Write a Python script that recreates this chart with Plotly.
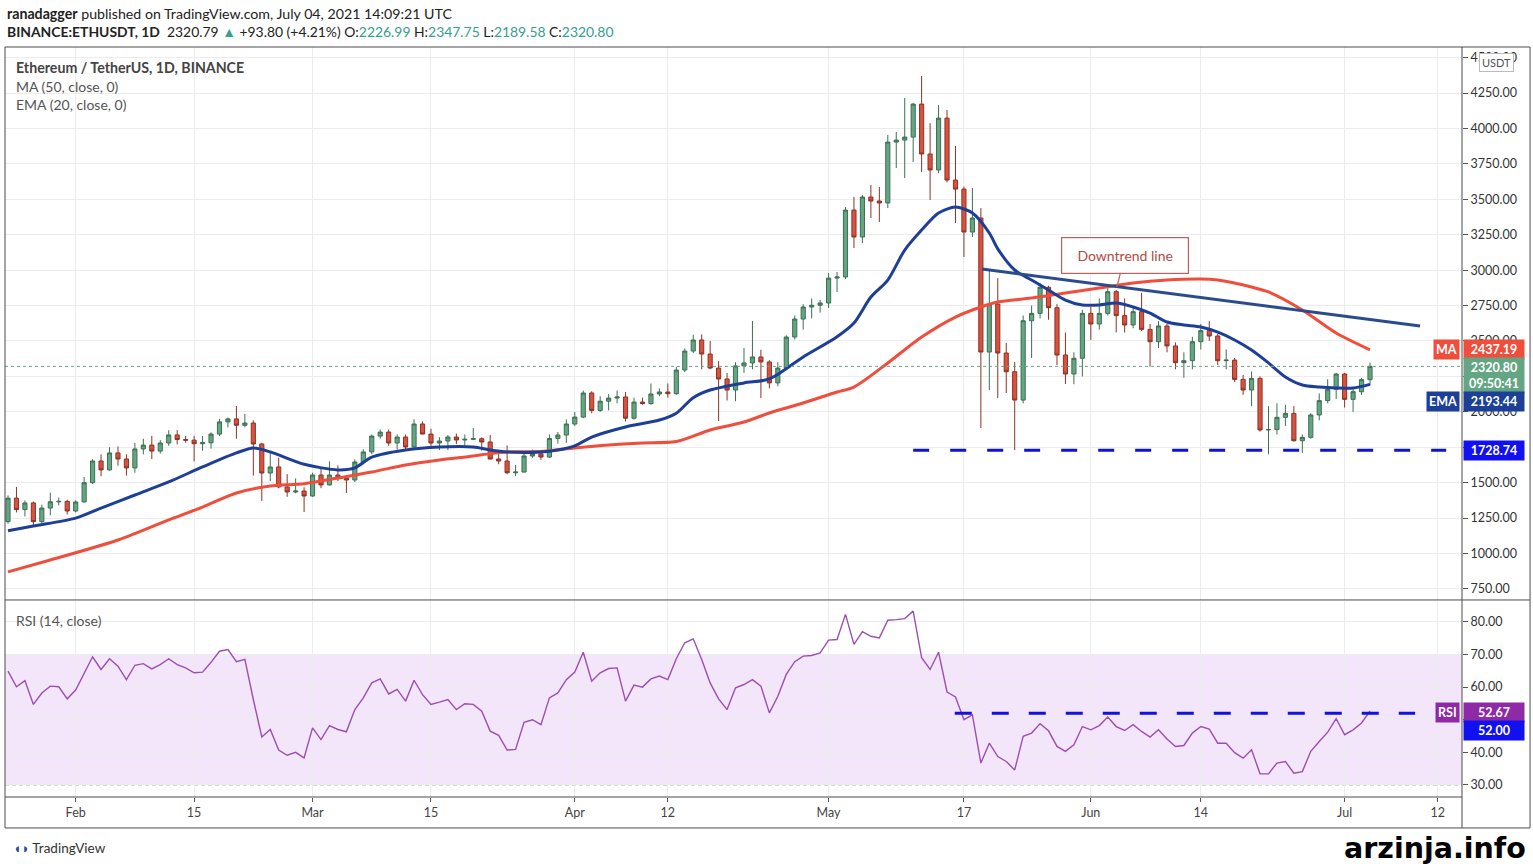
import pandas as pd
import plotly.graph_objects as go

# ---- daily candles, BINANCE:ETHUSDT, 24 Jan .. 4 Jul 2021 ----
dates = pd.date_range("2021-01-24", periods=162, freq="D")

open_ = [1225, 1391, 1310, 1357, 1225, 1321, 1365, 1368,
         1300, 1364, 1500, 1653, 1590, 1710, 1667, 1604, 1738, 1765, 1723, 1780, 1837, 1805,
         1800, 1775, 1782, 1843, 1929, 1950, 1905, 1921, 1773, 1568, 1611, 1470, 1434, 1441,
         1406, 1554, 1484, 1554, 1533, 1519, 1646, 1717, 1829, 1857, 1780, 1822, 1752, 1914,
         1843, 1780, 1794, 1822, 1801, 1806, 1810, 1787, 1667, 1653, 1570, 1575, 1688, 1703,
         1681, 1812, 1836,
         1914, 1963, 2133, 2010, 2075, 2097, 2105, 1955, 2069, 2058, 2126, 2140, 2128, 2295,
         2429, 2507, 2408, 2309, 2232, 2154, 2324, 2345, 2387, 2352, 2204, 2309, 2528, 2655,
         2740, 2752,
         2768, 2944, 2952, 3424, 3234, 3516, 3488, 3474, 3904, 3918, 3939, 4172, 3820, 3707,
         4073, 3636, 3572, 3269, 3368, 2422, 2761, 2415, 2283, 2083, 2643, 2695, 2879, 2735,
         2401, 2267, 2378,
         2695, 2620, 2695, 2848, 2679, 2613, 2707, 2582, 2495, 2606, 2465, 2347, 2361, 2495,
         2573, 2535, 2361, 2365, 2229, 2154, 2236, 1872, 1875, 1961, 1989, 1796, 1820, 1978,
         2079, 2159,
         2267, 2088, 2142, 2226.99]

high = [1410, 1470, 1375, 1367, 1345, 1430, 1395, 1380,
        1375, 1540, 1665, 1700, 1750, 1755, 1700, 1780, 1810, 1830, 1800, 1870, 1871, 1830,
        1830, 1830, 1855, 1950, 1960, 2041, 1985, 1940, 1782, 1710, 1676, 1560, 1530, 1468,
        1570, 1600, 1650, 1622, 1548, 1665, 1735, 1840, 1875, 1875, 1840, 1840, 1947, 1932,
        1880, 1821, 1837, 1846, 1840, 1885, 1820, 1837, 1726, 1763, 1625, 1702, 1733, 1722,
        1840, 1858, 1947,
        1999, 2150, 2145, 2110, 2125, 2150, 2140, 2100, 2100, 2200, 2165, 2200, 2318, 2448,
        2544, 2547, 2500, 2358, 2274, 2350, 2450, 2641, 2438, 2365, 2350, 2540, 2680, 2760,
        2800, 2790,
        2980, 2987, 3445, 3516, 3530, 3601, 3587, 3954, 3975, 4215, 4179, 4370, 4038, 4165,
        4130, 3876, 3590, 3580, 3438, 3000, 2944, 2486, 2352, 2680, 2750, 2910, 2890, 2760,
        2560, 2420, 2720,
        2740, 2800, 2880, 2860, 2800, 2740, 2840, 2620, 2640, 2620, 2490, 2420, 2530, 2620,
        2640, 2550, 2440, 2380, 2260, 2285, 2250, 2040, 2060, 2050, 2040, 1840, 1990, 2130,
        2230, 2275,
        2275, 2160, 2240, 2347.75]

low = [1210, 1290, 1262, 1200, 1215, 1270, 1340, 1275,
       1290, 1360, 1490, 1545, 1585, 1620, 1550, 1570, 1700, 1667, 1705, 1760, 1770, 1782,
       1650, 1725, 1740, 1830, 1890, 1810, 1890, 1550, 1371, 1511, 1460, 1400, 1425, 1293,
       1400, 1461, 1480, 1511, 1427, 1505, 1630, 1700, 1810, 1760, 1733, 1730, 1739, 1842,
       1760, 1730, 1730, 1772, 1760, 1800, 1726, 1665, 1630, 1560, 1546, 1570, 1676, 1661,
       1675, 1775, 1781,
       1900, 1955, 1990, 2000, 2010, 2060, 1932, 1945, 2050, 2050, 2110, 2100, 2120, 2280,
       2415, 2300, 2300, 1935, 2080, 2075, 2275, 2300, 2097, 2166, 2180, 2300, 2510, 2580,
       2660, 2700,
       2733, 2846, 2937, 3156, 3191, 3368, 3340, 3438, 3721, 3650, 3763, 3692, 3495, 3685,
       3620, 3333, 3093, 3234, 1886, 2154, 2097, 2133, 1730, 2060, 2380, 2660, 2650, 2330,
       2196, 2195, 2250,
       2508, 2580, 2680, 2560, 2560, 2590, 2570, 2320, 2450, 2420, 2300, 2240, 2300, 2440,
       2500, 2330, 2300, 2210, 2120, 2040, 1860, 1700, 1840, 1900, 1790, 1710, 1810, 1940,
       2060, 2090,
       2030, 2000, 2120, 2189.58]

close = [1391, 1310, 1357, 1225, 1321, 1365, 1368, 1300,
         1364, 1500, 1653, 1590, 1710, 1667, 1604, 1738, 1765, 1723, 1780, 1837, 1805, 1800,
         1775, 1782, 1843, 1929, 1950, 1905, 1921, 1773, 1568, 1611, 1470, 1434, 1441, 1406,
         1554, 1484, 1554, 1533, 1519, 1646, 1717, 1829, 1857, 1780, 1822, 1752, 1914, 1843,
         1780, 1794, 1822, 1801, 1806, 1810, 1787, 1667, 1653, 1570, 1575, 1688, 1703, 1681,
         1812, 1836, 1914,
         1963, 2133, 2010, 2075, 2097, 2105, 1955, 2069, 2058, 2126, 2140, 2128, 2295, 2429,
         2507, 2408, 2309, 2232, 2154, 2324, 2345, 2387, 2352, 2204, 2309, 2528, 2655, 2740,
         2752, 2768,
         2944, 2952, 3424, 3234, 3516, 3488, 3474, 3904, 3918, 3939, 4172, 3820, 3707, 4073,
         3636, 3572, 3269, 3368, 2422, 2761, 2415, 2283, 2083, 2643, 2695, 2879, 2735, 2401,
         2267, 2378, 2695,
         2620, 2695, 2848, 2679, 2613, 2707, 2582, 2495, 2606, 2465, 2347, 2361, 2495, 2573,
         2535, 2361, 2365, 2229, 2154, 2236, 1872, 1875, 1961, 1989, 1796, 1820, 1978, 2079,
         2159, 2267,
         2088, 2142, 2226.99, 2320.80]

rsi = [64.9, 60.1, 62.0, 54.7, 58.2, 60.3, 60.1, 56.4, 59.1, 64.2,
       69.3, 65.4, 68.7, 66.4, 62.3, 66.7, 67.2, 65.6, 66.9, 68.7,
       66.9, 65.9, 64.4, 64.6, 67.6, 71.0, 71.5, 67.8, 68.5, 56.2,
       44.7, 47.0, 40.7, 39.1, 40.0, 38.3, 47.5, 43.9, 48.2, 47.0,
       46.3, 53.1, 56.7, 61.3, 62.5, 57.9, 59.3, 55.7, 62.1, 57.7,
       54.7, 55.4, 56.2, 53.1, 54.9, 54.7, 52.6, 46.5, 45.2, 40.7,
       40.9, 49.2, 50.0, 48.5, 56.7, 58.2, 62.3, 64.6, 70.7, 61.8,
       64.4, 65.7, 65.9, 55.7, 60.6, 60.0, 62.5, 63.4, 62.3, 68.7,
       73.6, 74.8, 68.5, 61.3, 56.4, 53.1, 59.8, 60.8, 62.3, 60.3,
       52.1, 57.2, 63.9, 67.8, 69.5, 69.7, 70.5, 74.4, 74.6, 82.3,
       73.1, 77.0, 75.6, 75.1, 80.5, 80.7, 81.0, 83.3, 69.0, 65.4,
       70.7, 58.5, 57.0, 50.0, 51.5, 36.7, 42.8, 38.7, 37.2, 34.6,
       44.9, 45.9, 48.8, 46.6, 41.8, 40.3, 42.3, 47.9, 46.9, 48.2,
       50.8, 47.9, 46.7, 48.5, 46.4, 44.7, 46.9, 44.1, 41.8, 42.1,
       45.9, 47.9, 47.1, 42.8, 42.8, 39.9, 38.2, 40.8, 33.4, 33.4,
       36.7, 37.2, 33.6, 34.1, 40.3, 43.3, 46.2, 50.3, 45.4, 46.9,
       49.0, 52.67]

# EMA(20) and MA(50)
ema_dates = ["2021-01-24", "2021-01-27", "2021-02-01", "2021-02-04", "2021-02-08", "2021-02-12",
             "2021-02-16", "2021-02-20", "2021-02-22", "2021-02-24", "2021-02-28", "2021-03-04",
             "2021-03-06", "2021-03-08", "2021-03-12", "2021-03-16", "2021-03-20", "2021-03-22",
             "2021-03-24", "2021-03-28", "2021-03-30", "2021-04-01", "2021-04-03", "2021-04-07",
             "2021-04-11", "2021-04-13", "2021-04-15", "2021-04-17", "2021-04-21", "2021-04-24",
             "2021-04-28", "2021-05-02", "2021-05-04", "2021-05-06", "2021-05-08", "2021-05-10",
             "2021-05-12", "2021-05-14", "2021-05-16", "2021-05-18", "2021-05-20", "2021-05-21",
             "2021-05-23", "2021-05-25", "2021-05-27", "2021-05-29", "2021-05-31", "2021-06-02",
             "2021-06-04", "2021-06-06", "2021-06-08", "2021-06-10", "2021-06-12", "2021-06-14",
             "2021-06-16", "2021-06-18", "2021-06-20", "2021-06-22", "2021-06-24", "2021-06-26",
             "2021-06-28", "2021-06-30", "2021-07-02", "2021-07-04"]
ema_vals = [1160, 1194, 1250, 1321, 1413, 1505, 1611, 1710, 1745, 1717, 1630, 1590, 1604, 1680,
            1731, 1752, 1752, 1731, 1717, 1717, 1731, 1760, 1822, 1893, 1942, 1990, 2100, 2154,
            2204, 2232, 2387, 2530, 2627, 2810, 2930, 3142, 3283, 3403, 3445, 3403, 3262, 3150,
            3001, 2930, 2860, 2789, 2754, 2754, 2768, 2740, 2697, 2634, 2613, 2599, 2563, 2507,
            2436, 2345, 2246, 2189, 2175, 2168, 2168, 2193.44]

ma_dates = ["2021-01-24", "2021-01-29", "2021-02-06", "2021-02-12", "2021-02-16", "2021-02-20",
            "2021-02-24", "2021-02-28", "2021-03-04", "2021-03-08", "2021-03-12", "2021-03-16",
            "2021-03-20", "2021-03-22", "2021-03-24", "2021-03-28", "2021-04-01", "2021-04-05",
            "2021-04-09", "2021-04-13", "2021-04-17", "2021-04-21", "2021-04-24", "2021-04-28",
            "2021-05-02", "2021-05-04", "2021-05-08", "2021-05-12", "2021-05-16", "2021-05-19",
            "2021-05-21", "2021-05-25", "2021-05-29", "2021-06-02", "2021-06-06", "2021-06-10",
            "2021-06-14", "2021-06-16", "2021-06-18", "2021-06-22", "2021-06-26", "2021-06-30",
            "2021-07-04"]
ma_vals = [870, 954, 1095, 1237, 1328, 1427, 1477, 1493, 1533, 1575, 1625, 1660, 1688, 1705,
           1717, 1720, 1745, 1766, 1780, 1790, 1872, 1928, 1992, 2062, 2140, 2175, 2345, 2528,
           2669, 2740, 2775, 2803, 2839, 2874, 2909, 2930, 2937, 2930, 2909, 2846, 2719, 2556,
           2437.19]

# drawings
trend_dates = ["2021-05-19 03:00", "2021-07-09 22:00"]
trend_prices = [3008, 2606]
support_dates = ["2021-05-11", "2021-07-13"]
support_level = 1728.74
rsi_line_dates = ["2021-05-15 22:00", "2021-07-09 08:00"]
rsi_line_level = 52.00
callout_date = "2021-06-04 02:00"
callout_price = 2881

x_ticks = ["2021-02-01", "2021-02-15", "2021-03-01", "2021-03-15", "2021-04-01", "2021-04-12",
           "2021-05-01", "2021-05-17", "2021-06-01", "2021-06-14", "2021-07-01", "2021-07-12"]
x_labels = ["Feb", "15", "Mar", "15", "Apr", "12", "May", "17", "Jun", "14", "Jul", "12"]
price_ticks = [750, 1000, 1250, 1500, 1750, 2000, 2250, 2500, 2750, 3000, 3250, 3500, 3750,
               4000, 4250, 4500]
hidden_price_ticks = [1750, 2250]   # covered by the axis tags on the reference
rsi_ticks = [30, 40, 50, 60, 70, 80]
hidden_rsi_ticks = [50]

FONT = "Lato, 'Open Sans', sans-serif"
GREEN_TXT = "#33a091"
BORDER = "#4d4d4d"
GRID = "#ececec"

fig = go.Figure()

fig.add_trace(go.Candlestick(
    x=dates, open=open_, high=high, low=low, close=close,
    increasing=dict(line=dict(color="#3d6f52", width=1), fillcolor="#64a683"),
    decreasing=dict(line=dict(color="#8a3326", width=1), fillcolor="#d9523f"),
    whiskerwidth=0, hoverinfo="skip",
))
fig.add_trace(go.Scatter(x=ma_dates, y=ma_vals, mode="lines",
                         line=dict(color="#f04e3c", width=3, shape="spline", smoothing=0.8)))
fig.add_trace(go.Scatter(x=ema_dates, y=ema_vals, mode="lines",
                         line=dict(color="#1d3f98", width=3, shape="spline", smoothing=0.8)))
fig.add_trace(go.Scatter(x=trend_dates, y=trend_prices, mode="lines",
                         line=dict(color="#2b4c8c", width=3)))
fig.add_trace(go.Scatter(x=support_dates, y=[support_level, support_level], mode="lines",
                         line=dict(color="#0b14d4", width=3, dash="16px,21px")))

fig.add_trace(go.Scatter(x=dates, y=rsi, mode="lines", yaxis="y2",
                         line=dict(color="#9c4fb0", width=1.4)))
fig.add_trace(go.Scatter(x=rsi_line_dates, y=[rsi_line_level, rsi_line_level], mode="lines",
                         yaxis="y2", line=dict(color="#1010e0", width=3, dash="17px,20px")))

shapes = [
    # RSI band 30-70
    dict(type="rect", xref="paper", yref="y2", x0=0, x1=1, y0=30, y1=70,
         fillcolor="#f3e6fb", line_width=0, layer="below"),
    dict(type="line", xref="paper", yref="y2", x0=0, x1=1, y0=70, y1=70,
         line=dict(color="#a99bb3", width=1, dash="4px,3px"), layer="below"),
    dict(type="line", xref="paper", yref="y2", x0=0, x1=1, y0=30, y1=30,
         line=dict(color="#a99bb3", width=1, dash="4px,3px"), layer="below"),
    # last price dotted line
    dict(type="line", xref="paper", yref="y", x0=0, x1=1, y0=close[-1], y1=close[-1],
         line=dict(color="#6aa585", width=1, dash="dot")),
]
# chart frame
RIGHT = 1.0467
BOTTOM = -0.0413
for x0, y0, x1, y1 in [(0, 1, RIGHT, 1), (0, 0.2627, RIGHT, 0.2627), (0, 0, 1, 0),
                       (0, BOTTOM, RIGHT, BOTTOM), (0, BOTTOM, 0, 1), (RIGHT, BOTTOM, RIGHT, 1),
                       (1, BOTTOM, 1, 1)]:
    shapes.append(dict(type="line", xref="paper", yref="paper", x0=x0, y0=y0, x1=x1, y1=y1,
                       line=dict(color=BORDER, width=1)))


def tag(y, text, bg, yref="y", name=None, yshift=0, yanchor="middle"):
    out = [dict(xref="paper", yref=yref, x=1, y=y, xanchor="left", yanchor=yanchor, xshift=1,
                yshift=yshift, text=text, showarrow=False, bgcolor=bg, borderpad=2, width=56,
                align="center", font=dict(family=FONT, size=12.5, color="white", weight="bold"))]
    if name:
        out.append(dict(xref="paper", yref=yref, x=1, y=y, xanchor="right", yanchor=yanchor,
                        xshift=-2, yshift=yshift, text=name, showarrow=False, bgcolor=bg,
                        borderpad=2, font=dict(family=FONT, size=12.5, color="white", weight="bold")))
    return out


annotations = []
annotations += tag(ma_vals[-1], f"{ma_vals[-1]:.2f}", "#f04e3c", name="MA")
annotations += tag(close[-1], f"{close[-1]:.2f}<br>09:50:41", "#64a683", yanchor="top", yshift=9)
# TradingView pushes the EMA tag below the price tag
annotations += tag(ema_vals[-1], f"{ema_vals[-1]:.2f}", "#1d3f98", name="EMA", yshift=-17)
annotations += tag(support_level, f"{support_level:.2f}", "#1010f0")
annotations += tag(rsi[-1], f"{rsi[-1]:.2f}", "#8e2aa6", yref="y2", name="RSI", yshift=-1)
annotations += tag(rsi_line_level, f"{rsi_line_level:.2f}", "#1010f0", yref="y2", yshift=-17)

annotations += [
    dict(xref="paper", yref="paper", x=0, y=1.0453, xanchor="left", yanchor="middle",
         showarrow=False, font=dict(family=FONT, size=14.2, color="#222"),
         text="<b>ranadagger</b> published on TradingView.com, July 04, 2021 14:09:21 UTC"),
    dict(xref="paper", yref="paper", x=0, y=1.0200, xanchor="left", yanchor="middle",
         showarrow=False, font=dict(family=FONT, size=13.9, color="#222"),
         text=(f"<b>BINANCE:ETHUSDT, 1D</b>  2320.79 <span style='color:{GREEN_TXT}'>▲</span>"
               f" +93.80 (+4.21%) O:<span style='color:{GREEN_TXT}'>{open_[-1]:.2f}</span>"
               f" H:<span style='color:{GREEN_TXT}'>{high[-1]:.2f}</span>"
               f" L:<span style='color:{GREEN_TXT}'>{low[-1]:.2f}</span>"
               f" C:<span style='color:{GREEN_TXT}'>{close[-1]:.2f}</span>")),
    dict(xref="paper", yref="paper", x=0.0062, y=0.9733, xanchor="left", yanchor="middle",
         showarrow=False, text="Ethereum / TetherUS, 1D, BINANCE",
         font=dict(family=FONT, size=14.2, color="#444", weight="bold")),
    dict(xref="paper", yref="paper", x=0.0062, y=0.9480, xanchor="left", yanchor="middle",
         showarrow=False, text="MA (50, close, 0)", font=dict(family=FONT, size=14, color="#555")),
    dict(xref="paper", yref="paper", x=0.0062, y=0.9227, xanchor="left", yanchor="middle",
         showarrow=False, text="EMA (20, close, 0)", font=dict(family=FONT, size=14, color="#555")),
    dict(xref="paper", yref="paper", x=0.0062, y=0.2360, xanchor="left", yanchor="middle",
         showarrow=False, text="RSI (14, close)", font=dict(family=FONT, size=14, color="#555")),
    dict(xref="paper", yref="paper", x=1.024, y=0.980, xanchor="center", yanchor="middle",
         showarrow=False, text="USDT", bgcolor="white", bordercolor="#bbbbbb", borderwidth=1,
         borderpad=2, font=dict(family=FONT, size=11, color="#555")),
    dict(x=callout_date, y=callout_price, xref="x", yref="y", ax=8, ay=-32,
         text="Downtrend line", showarrow=True, arrowhead=0, arrowwidth=1.2,
         arrowcolor="#c0605a", bordercolor="#c0605a", borderwidth=1.2, borderpad=9,
         bgcolor="white", width=108, font=dict(family=FONT, size=14, color="#b24a42")),
    dict(xref="paper", yref="paper", x=0.004, y=-0.068, xanchor="left", yanchor="middle",
         showarrow=False, text="<span style='color:#2e4d8f'>◖◗</span> TradingView",
         font=dict(family=FONT, size=13.5, color="#333")),
    dict(xref="paper", yref="paper", x=1.0453, y=-0.068, xanchor="right", yanchor="middle",
         showarrow=False, text="<b>arzinja.info</b>",
         font=dict(family="DejaVu Sans", size=28.5, color="black")),
]

fig.update_layout(
    width=1533, height=864,
    margin=dict(l=5, r=71, t=47, b=67),
    paper_bgcolor="white", plot_bgcolor="white",
    showlegend=False,
    hovermode=False,
    font=dict(family=FONT, size=12, color="#333"),
    xaxis=dict(type="date", range=["2021-01-23 15:30", "2021-07-14 21:00"], anchor="y2",
               tickvals=x_ticks, ticktext=x_labels, showgrid=True, gridcolor=GRID,
               ticks="outside", ticklen=4, tickcolor="#555", zeroline=False, showline=False,
               rangeslider=dict(visible=False), tickfont=dict(size=12.5, color="#444")),
    yaxis=dict(domain=[0.2627, 1], range=[672, 4575], side="right", tickvals=price_ticks,
               ticktext=["" if v in hidden_price_ticks else f"{v:.2f}" for v in price_ticks],
               showgrid=True, gridcolor=GRID,
               ticks="outside", ticklen=5, tickcolor="#555", zeroline=False,
               tickfont=dict(size=12.5, color="#333")),
    yaxis2=dict(domain=[0, 0.2613], range=[26.3, 86.4], side="right", tickvals=rsi_ticks,
                ticktext=["" if v in hidden_rsi_ticks else f"{v:.2f}" for v in rsi_ticks],
                showgrid=True, gridcolor=GRID,
                ticks="outside", ticklen=5, tickcolor="#555", zeroline=False,
                tickfont=dict(size=12.5, color="#333")),
    shapes=shapes,
    annotations=annotations,
)

fig.write_html("out.html", config={"displayModeBar": False},
               post_script="document.body.style.margin='0';")
